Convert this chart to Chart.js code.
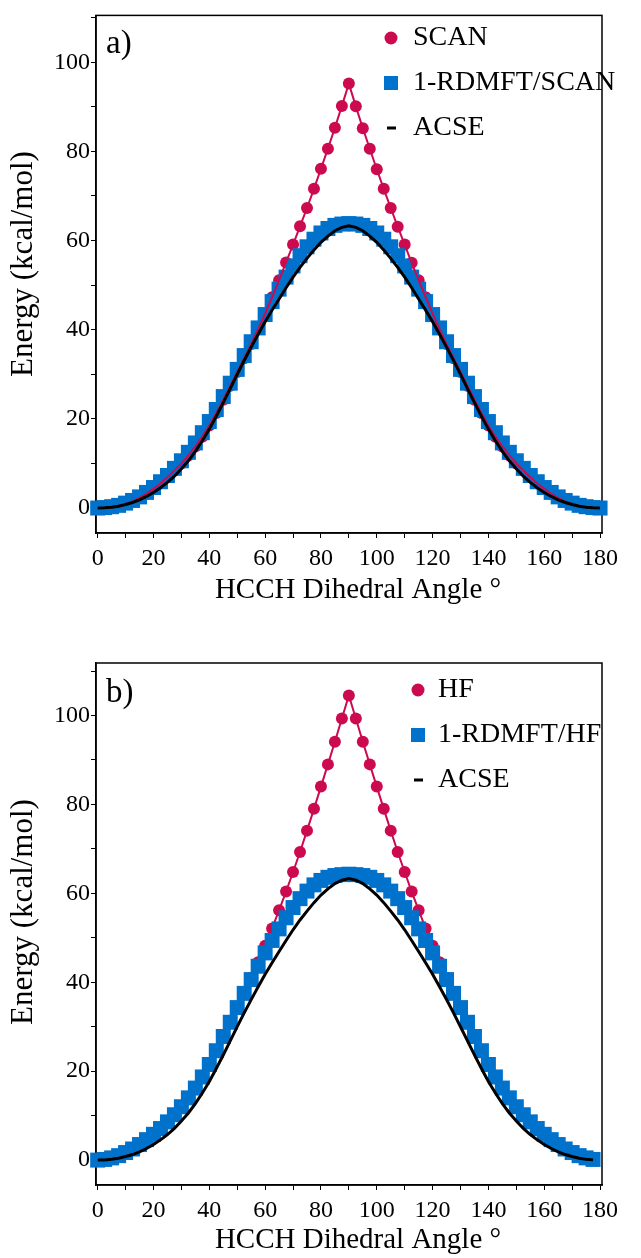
<!DOCTYPE html>
<html lang="en">
<head>
<meta charset="UTF-8">
<title>HCCH torsion energy profiles</title>
<script src="https://cdn.jsdelivr.net/npm/chart.js"></script>
<style>
  body { margin: 0; background: #fff; }
  .panel { position: absolute; left: 0; width: 641px; }
  #panelA { top: 0; height: 608px; }
  #panelB { top: 608px; height: 650px; }
</style>
</head>
<body>
<div class="panel" id="panelA"><canvas id="chartA" width="641" height="608"></canvas></div>
<div class="panel" id="panelB"><canvas id="chartB" width="641" height="650"></canvas></div>

<script>
// dihedral angles (degrees)
const anglesA = [0, 2.5, 5, 7.5, 10, 12.5, 15, 17.5, 20, 22.5, 25, 27.5, 30, 32.5, 35, 37.5, 40, 42.5, 45, 47.5,
  50, 52.5, 55, 57.5, 60, 62.5, 65, 67.5, 70, 72.5, 75, 77.5, 80, 82.5, 85, 87.5, 90, 92.5, 95, 97.5,
  100, 102.5, 105, 107.5, 110, 112.5, 115, 117.5, 120, 122.5, 125, 127.5, 130, 132.5, 135, 137.5, 140, 142.5, 145, 147.5,
  150, 152.5, 155, 157.5, 160, 162.5, 165, 167.5, 170, 172.5, 175, 177.5, 180];
const anglesB = anglesA.slice(0, 72);   // panel b stops at 177.5

// energies (kcal/mol)
const scanE = [0, 0.05, 0.2, 0.5, 0.9, 1.5, 2.3, 3.2, 4.3, 5.5, 6.9, 8.4, 10.0, 11.8, 13.8, 16.0, 18.5, 21.3, 24.3, 27.4,
  30.5, 33.6, 36.8, 40.1, 43.6, 47.3, 51.1, 55.1, 59.1, 63.2, 67.3, 71.6, 76.1, 80.6, 85.3, 90.2, 95.2,
  90.1, 85.2, 80.6, 76.0, 71.6, 67.3, 63.1, 59.1, 55.0, 51.1, 47.3, 43.6, 40.1, 36.8, 33.6, 30.5, 27.4, 24.3, 21.3,
  18.5, 16.0, 13.8, 11.8, 10.0, 8.4, 6.9, 5.5, 4.3, 3.2, 2.3, 1.5, 0.9, 0.5, 0.2, 0.05, 0];
const rdmftScanE = [0, 0.1, 0.3, 0.6, 1.1, 1.7, 2.5, 3.5, 4.6, 5.9, 7.3, 8.9, 10.6, 12.5, 14.6, 16.9, 19.4, 22.1, 25.0, 28.0,
  31.1, 34.2, 37.3, 40.4, 43.4, 46.3, 49.1, 51.8, 54.3, 56.6, 58.6, 60.3, 61.7, 62.7, 63.4, 63.7, 63.8,
  63.7, 63.4, 62.7, 61.7, 60.3, 58.6, 56.6, 54.3, 51.8, 49.1, 46.3, 43.4, 40.4, 37.3, 34.2, 31.1, 28.0, 25.0, 22.1,
  19.4, 16.9, 14.6, 12.5, 10.6, 8.9, 7.3, 5.9, 4.6, 3.5, 2.5, 1.7, 1.1, 0.6, 0.3, 0.1, 0];
const acseE = [0, 0.05, 0.2, 0.4, 0.8, 1.25, 1.85, 2.6, 3.5, 4.55, 5.75, 7.15, 8.8, 10.6, 12.7, 15.1, 17.7, 20.6, 23.65, 26.8,
  30.0, 33.1, 36.1, 39.0, 41.8, 44.4, 46.9, 49.4, 51.8, 54.0, 56.0, 57.9, 59.6, 61.0, 62.2, 62.95, 63.3,
  62.95, 62.2, 61.0, 59.6, 57.9, 56.0, 54.0, 51.8, 49.4, 46.9, 44.4, 41.8, 39.0, 36.1, 33.1, 30.0, 26.8, 23.65, 20.6,
  17.7, 15.1, 12.7, 10.6, 8.8, 7.15, 5.75, 4.55, 3.5, 2.6, 1.85, 1.25, 0.8, 0.4, 0.2, 0.05, 0];
const hfE = [0, 0.1, 0.4, 0.9, 1.6, 2.4, 3.3, 4.4, 5.6, 6.9, 8.4, 10.0, 11.8, 13.8, 16.0, 18.5, 21.3, 24.4, 27.6, 31.0,
  34.4, 37.7, 41.0, 44.5, 48.2, 52.1, 56.2, 60.4, 64.8, 69.3, 74.1, 79.0, 84.0, 89.0, 94.1, 99.3, 104.5,
  99.3, 94.1, 89.0, 84.0, 79.0, 74.1, 69.3, 64.8, 60.4, 56.2, 52.1, 48.2, 44.5, 41.0, 37.7, 34.4, 31.0, 27.6, 24.4,
  21.3, 18.5, 16.0, 13.8, 11.8, 10.0, 8.4, 6.9, 5.6, 4.4, 3.3, 2.4, 1.6, 0.9, 0.4, 0.1];
const rdmftHfE = [0, 0.15, 0.5, 1.0, 1.7, 2.5, 3.5, 4.6, 5.8, 7.1, 8.6, 10.2, 12.0, 14.0, 16.2, 18.7, 21.5, 24.6, 27.8, 31.0,
  34.3, 37.5, 40.6, 43.6, 46.6, 49.4, 52.0, 54.5, 56.8, 58.8, 60.5, 61.9, 62.9, 63.6, 64.0, 64.2, 64.3,
  64.2, 64.0, 63.6, 62.9, 61.9, 60.5, 58.8, 56.8, 54.5, 52.0, 49.4, 46.6, 43.6, 40.6, 37.5, 34.3, 31.0, 27.8, 24.6,
  21.5, 18.7, 16.2, 14.0, 12.0, 10.2, 8.6, 7.1, 5.8, 4.6, 3.5, 2.5, 1.7, 1.0, 0.5, 0.15];
const acseEB = acseE.slice(0, 72);

const legendA = ['SCAN', '1-RDMFT/SCAN', 'ACSE'];
const legendB = ['HF', '1-RDMFT/HF', 'ACSE'];
const xTitle = 'HCCH Dihedral Angle °';
const yTitle = 'Energy (kcal/mol)';

const SERIF = "'Liberation Serif', 'Times New Roman', serif";
const RED = '#cc0a4f';
const BLUE = '#0072cc';

function pts(xs, ys) {
  return xs.map((x, i) => ({ x: x, y: ys[i] }));
}

// box around the plot area
const framePlugin = {
  id: 'frame',
  beforeDatasetsDraw(chart) {
    const { ctx, chartArea: a } = chart;
    ctx.save();
    ctx.strokeStyle = '#000';
    ctx.lineWidth = 1.5;
    ctx.strokeRect(a.left, a.top, a.right - a.left, a.bottom - a.top);
    ctx.restore();
  }
};

// legend, panel tag and axis titles drawn by hand
const boxLegend = {
  id: 'boxLegend',
  afterDraw(chart, args, o) {
    const ctx = chart.ctx;
    ctx.save();
    ctx.fillStyle = '#000';
    ctx.textBaseline = 'middle';

    ctx.save();
    ctx.font = '31px ' + SERIF;
    ctx.textAlign = 'center';
    ctx.translate(24, o.yTitleY);
    ctx.rotate(-Math.PI / 2);
    ctx.fillText(yTitle, 0, 0);
    ctx.restore();

    ctx.save();
    ctx.font = '29px ' + SERIF;
    ctx.textAlign = 'center';
    ctx.fillText(xTitle, 358, o.xTitleY);
    ctx.restore();

    ctx.font = '33px ' + SERIF;
    ctx.fillText(o.tag, o.tagX, o.tagY);
    ctx.font = '28px ' + SERIF;
    o.labels.forEach((lab, i) => {
      const y = o.y + i * o.gap;
      if (i === 0) {
        ctx.fillStyle = RED;
        ctx.beginPath();
        ctx.arc(o.x, y, 6.5, 0, Math.PI * 2);
        ctx.fill();
      } else if (i === 1) {
        ctx.fillStyle = BLUE;
        ctx.fillRect(o.x - 7, y - 7, 14, 14);
      } else {
        ctx.fillStyle = '#000';
        ctx.fillRect(o.x - 4, y - 1.5, 9, 3);
      }
      ctx.fillStyle = '#000';
      ctx.fillText(lab, o.x + o.dx, y);
    });
    ctx.restore();
  }
};

function scales(yMax, xHeight) {
  const tickFont = { family: SERIF, size: 24 };
  return {
    x: {
      type: 'linear', min: -0.6, max: 180.7,
      afterFit: s => { s.height = xHeight; },
      ticks: {
        stepSize: 10, includeBounds: false, autoSkip: false, maxRotation: 0, padding: 6,
        color: '#000', font: tickFont,
        callback: v => (Math.round(v) % 20 === 0 ? v : '')
      },
      grid: { drawOnChartArea: false, tickLength: 5, color: '#000', lineWidth: 1 },
      border: { display: true, color: '#000', width: 1.5 }
    },
    y: {
      type: 'linear', min: -5.6, max: yMax,
      afterFit: s => { s.width = 96; },
      ticks: {
        stepSize: 10, includeBounds: false, autoSkip: false, padding: 1,
        color: '#000', font: tickFont,
        callback: v => (Math.round(v) % 20 === 0 ? v : '')
      },
      grid: { drawOnChartArea: false, tickLength: 5, color: '#000', lineWidth: 1 },
      border: { display: true, color: '#000', width: 1.5 }
    }
  };
}

function lineSet(data, color, width) {
  return { data: data, borderColor: color, borderWidth: width, pointRadius: 0, fill: false, showLine: true, clip: false };
}
function markerSet(data, color, style, radius) {
  return { data: data, showLine: false, pointStyle: style, pointRadius: radius, backgroundColor: color, borderWidth: 0, clip: false };
}

// panel a: first dataset is drawn on top
new Chart(document.getElementById('chartA'), {
  type: 'scatter',
  data: {
    datasets: [
      lineSet(pts(anglesA, acseE), '#000', 3),
      lineSet(pts(anglesA, scanE), RED, 2),
      markerSet(pts(anglesA, rdmftScanE), BLUE, 'rect', 10.6),
      markerSet(pts(anglesA, scanE), RED, 'circle', 6)
    ]
  },
  options: {
    responsive: false, animation: false, devicePixelRatio: 1,
    layout: { padding: { top: 13, right: 39, left: 0, bottom: 0 } },
    scales: scales(110.5, 75),
    plugins: {
      legend: { display: false }, tooltip: { enabled: false },
      boxLegend: { tag: 'a)', tagX: 106, tagY: 44, labels: legendA, x: 391, y: 38, gap: 45, dx: 22, yTitleY: 264, xTitleY: 590 }
    }
  },
  plugins: [framePlugin, boxLegend]
});

// panel b
new Chart(document.getElementById('chartB'), {
  type: 'scatter',
  data: {
    datasets: [
      lineSet(pts(anglesB, acseEB), '#000', 3),
      markerSet(pts(anglesB, rdmftHfE), BLUE, 'rect', 10.6),
      lineSet(pts(anglesB, hfE), RED, 2),
      markerSet(pts(anglesB, hfE), RED, 'circle', 6)
    ]
  },
  options: {
    responsive: false, animation: false, devicePixelRatio: 1,
    layout: { padding: { top: 55, right: 39, left: 0, bottom: 0 } },
    scales: scales(111.8, 73),
    plugins: {
      legend: { display: false }, tooltip: { enabled: false },
      boxLegend: { tag: 'b)', tagX: 106, tagY: 85, labels: legendB, x: 418, y: 82, gap: 45, dx: 20, yTitleY: 304, xTitleY: 632 }
    }
  },
  plugins: [framePlugin, boxLegend]
});
</script>
</body>
</html>
